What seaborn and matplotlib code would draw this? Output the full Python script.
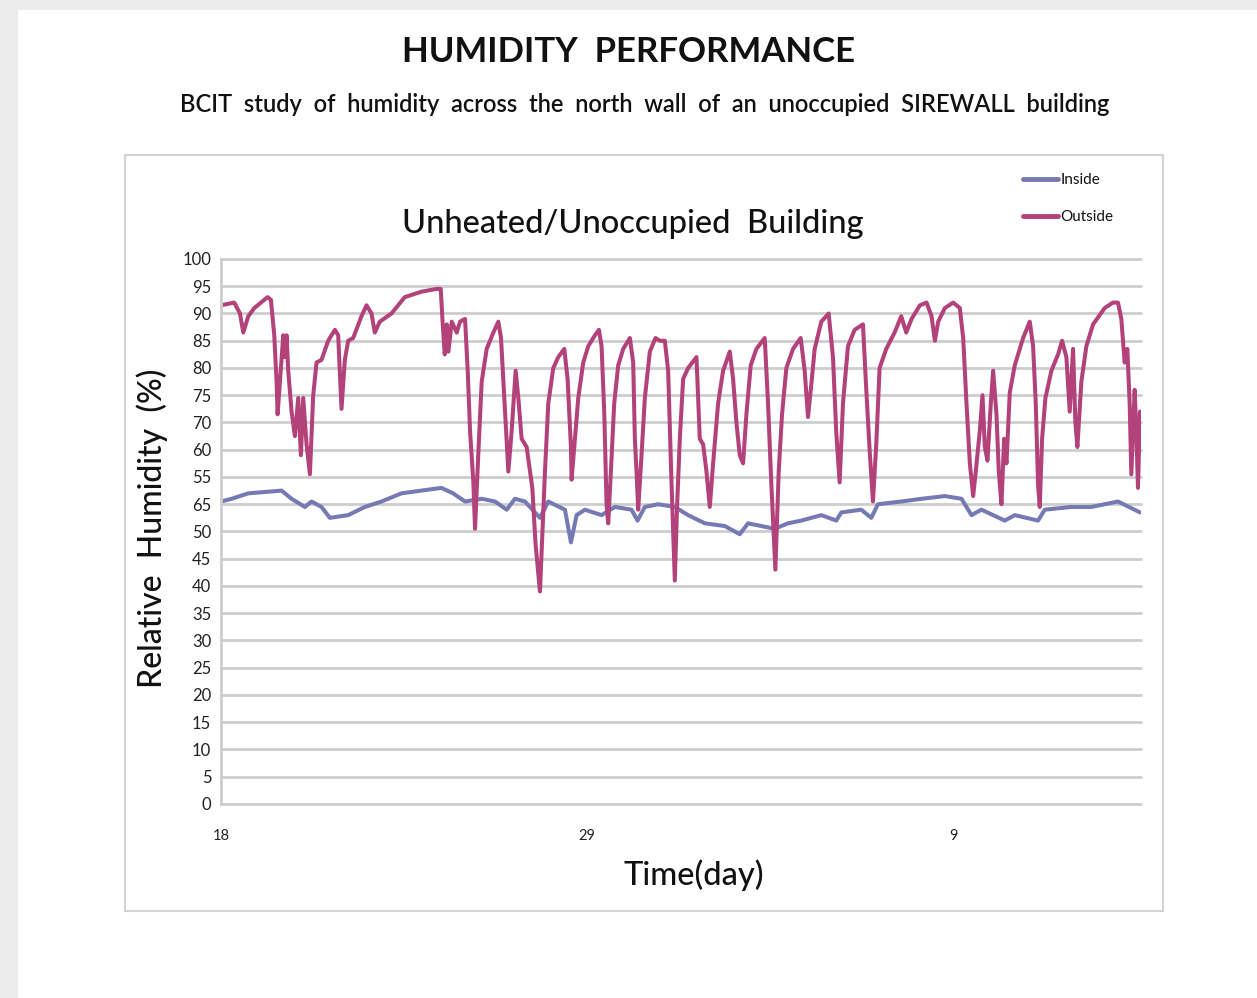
import numpy as np
import pandas as pd
import matplotlib
matplotlib.use("Agg")
import matplotlib.pyplot as plt
import seaborn as sns
from matplotlib.patches import Rectangle

# values (x = days since the 18th)
outside_day = [0.0, 0.4, 0.57, 0.67, 0.82, 1.0, 1.4, 1.5, 1.6, 1.67, 1.7, 1.77, 1.87, 1.92, 1.97,
               2.02, 2.12, 2.22, 2.32, 2.4, 2.47, 2.57, 2.67, 2.77, 2.87, 3.02, 3.22, 3.42, 3.52,
               3.62, 3.72, 3.82, 3.97, 4.22, 4.37, 4.52, 4.62, 4.77, 5.12, 5.52, 6.02, 6.47, 6.6,
               6.65, 6.72, 6.78, 6.83, 6.93, 7.08, 7.18, 7.33, 7.41, 7.48, 7.58, 7.63, 7.73, 7.83,
               7.98, 8.18, 8.33, 8.41, 8.53, 8.63, 8.73, 8.85, 8.93, 9.03, 9.18, 9.35, 9.45, 9.58,
               9.65, 9.73, 9.83, 9.98, 10.13, 10.31, 10.41, 10.51, 10.53, 10.61, 10.73, 10.88,
               11.03, 11.23, 11.35, 11.43, 11.51, 11.58, 11.63, 11.71, 11.81, 11.93, 12.08, 12.28,
               12.38, 12.43, 12.48, 12.53, 12.63, 12.73, 12.88, 13.05, 13.18, 13.33, 13.43, 13.53,
               13.63, 13.7, 13.78, 13.88, 14.03, 14.28, 14.38, 14.48, 14.58, 14.68, 14.78, 14.93,
               15.08, 15.28, 15.38, 15.48, 15.58, 15.68, 15.78, 15.91, 16.08, 16.33, 16.43, 16.53,
               16.65, 16.75, 16.85, 16.98, 17.18, 17.41, 17.53, 17.63, 17.73, 17.83, 18.03, 18.25,
               18.38, 18.48, 18.58, 18.68, 18.83, 19.03, 19.28, 19.38, 19.48, 19.58, 19.68, 19.78,
               19.98, 20.23, 20.43, 20.58, 20.74, 20.99, 21.19, 21.34, 21.44, 21.54, 21.74, 21.99,
               22.19, 22.29, 22.39, 22.49, 22.59, 22.66, 22.79, 22.87, 22.94, 23.02, 23.12, 23.19,
               23.29, 23.36, 23.44, 23.52, 23.59, 23.69, 23.84, 24.09, 24.29, 24.39, 24.47, 24.54,
               24.59, 24.66, 24.76, 24.94, 25.14, 25.26, 25.39, 25.49, 25.59, 25.66, 25.72, 25.84,
               25.99, 26.19, 26.54, 26.79, 26.94, 27.04, 27.14, 27.22, 27.29, 27.34, 27.44, 27.49,
               27.54, 27.6]
outside_rh = [91.5, 92, 90, 86.5, 89.5, 91, 93, 92.5, 86, 77.5, 71.5, 77.5, 86, 82, 86,
              79.5, 72, 67.5, 74.5, 64, 74.5, 66, 60.5, 75, 81, 81.5, 85, 87, 86,
              72.5, 81.5, 85, 85.5, 89.5, 91.5, 90, 86.5, 88.5, 90, 93, 94, 94.5, 94.5,
              89, 82.5, 88, 83, 88.5, 86.5, 88.5, 89, 79.5, 68.5, 59, 50.5, 64.5, 77.5,
              83.5, 86.5, 88.5, 85.5, 72, 61, 68.5, 79.5, 74.5, 67, 65.5, 58, 47.5, 39,
              49.5, 61, 73.5, 80, 82, 83.5, 78, 65.5, 59.5, 65.5, 74.5, 81,
              84, 86, 87, 84, 72, 55, 51.5, 61, 73.5, 80.5, 83.5, 85.5,
              81, 67, 61, 54, 64, 74.5, 83, 85.5, 85, 85, 79.5, 59,
              41, 55, 67, 78, 80, 82, 67, 66, 61, 54.5, 62.5, 73.5,
              79.5, 83, 78, 70, 64, 62.5, 71.5, 80.5, 83.5, 85.5, 73.5, 58.5,
              43, 61, 71.5, 80, 83.5, 85.5, 79.5, 71, 77, 83.5, 88.5, 90,
              82, 68, 59, 73.5, 84, 87, 88, 76, 65, 55.5, 66, 80,
              83.5, 86.5, 89.5, 86.5, 89, 91.5, 92, 89.5, 85, 88.5, 91, 92,
              91, 85.5, 73.5, 62.5, 56.5, 60.5, 68.5, 75, 65.5, 63, 73.5, 79.5,
              71.5, 61, 55, 67, 62.5, 75.5, 80.5, 85.5, 88.5, 84, 73.5, 58.5,
              54.5, 67, 74.5, 79.5, 82.5, 85, 82, 72, 83.5, 70, 65.5, 77.5,
              84, 88, 91, 92, 92, 89, 81, 83.5, 73.5, 60.5, 76, 68.5,
              58, 72]

inside_day = [0.0, 0.32, 0.82, 1.82, 2.12, 2.52, 2.72, 3.02, 3.27, 3.82, 4.32, 4.82, 5.42, 6.02,
              6.62, 6.97, 7.33, 7.83, 8.23, 8.58, 8.83, 9.13, 9.58, 9.83, 10.33, 10.51, 10.68,
              10.93, 11.43, 11.83, 12.33, 12.51, 12.73, 13.13, 13.63, 14.03, 14.53, 15.13, 15.58,
              15.83, 16.23, 16.63, 17.03, 17.43, 18.03, 18.48, 18.63, 19.23, 19.53, 19.73, 20.43,
              21.04, 21.74, 22.24, 22.54, 22.84, 23.54, 23.84, 24.54, 24.74, 25.54, 26.14, 26.94,
              27.6]
inside_rh = [55.5, 56, 57, 57.5, 56, 54.5, 55.5, 54.5, 52.5, 53, 54.5, 55.5, 57, 57.5,
             58, 57, 55.5, 56, 55.5, 54, 56, 55.5, 52.5, 55.5, 54, 48, 53,
             54, 53, 54.5, 54, 52, 54.5, 55, 54.5, 53, 51.5, 51, 49.5,
             51.5, 51, 50.5, 51.5, 52, 53, 52, 53.5, 54, 52.5, 55, 55.5,
             56, 56.5, 56, 53, 54, 52, 53, 52, 54, 54.5, 54.5, 55.5,
             53.5]

x_ticks = [0, 11, 22]
x_tick_labels = ["18", "29", "9"]
y_ticks = list(range(0, 101, 5))
y_tick_labels = ["0", "5", "10", "15", "20", "25", "30", "35", "40", "45", "50",
                 "65", "55", "60", "70", "75", "80", "85", "90", "95", "100"]

df = pd.concat([
    pd.DataFrame({"day": inside_day, "rh": inside_rh, "series": "Inside"}),
    pd.DataFrame({"day": outside_day, "rh": outside_rh, "series": "Outside"}),
])
palette = {"Inside": "#7579b4", "Outside": "#b3427a"}

sns.set_theme(style="white")
plt.rcParams["font.family"] = ["Lato", "DejaVu Sans"]
plt.rcParams["text.color"] = "#111111"

fig = plt.figure(figsize=(12.57, 9.98), dpi=100, facecolor="#ececec")
# white page and the grey chart frame, behind the axes
fig.patches.append(Rectangle((0.0143, 0.0), 0.9857, 0.99, transform=fig.transFigure,
                             facecolor="white", edgecolor="none", zorder=-3))
fig.patches.append(Rectangle((0.0994, 0.0872), 0.8258, 0.7575, transform=fig.transFigure,
                             facecolor="white", edgecolor="#d3d3d3", lw=1.5, zorder=-2))

ax = fig.add_axes([0.1758, 0.1944, 0.7319, 0.5461])
ax.set_facecolor("none")
for y in y_ticks:
    ax.axhline(y, color="#cdcdcd", lw=2, zorder=0, clip_on=False)

sns.lineplot(data=df, x="day", y="rh", hue="series", palette=palette,
             hue_order=["Inside", "Outside"], estimator=None, sort=False,
             linewidth=2.9, ax=ax)

ax.set_xlim(0, 27.63)
ax.set_ylim(0, 100)
ax.set_xticks(x_ticks)
ax.set_xticklabels(x_tick_labels, fontsize=10.5)
ax.set_yticks(y_ticks)
ax.set_yticklabels(y_tick_labels, fontsize=12)
ax.tick_params(axis="y", length=0, pad=7, colors="#222222")
ax.tick_params(axis="x", length=0, pad=18, colors="#222222")
for s in ["top", "right", "bottom"]:
    ax.spines[s].set_visible(False)
ax.spines["left"].set_color("#cdcdcd")
ax.spines["left"].set_linewidth(2)
ax.set_xlabel("")
ax.set_ylabel("")

ax.legend(loc="upper left", bbox_to_anchor=(0.803, 0.84), bbox_transform=fig.transFigure,
          frameon=False, fontsize=11, handlelength=2.3, handletextpad=0.15,
          labelspacing=1.5, title=None)
for h in ax.get_legend().get_lines():
    h.set_linewidth(3.5)

fig.text(0.5004, 0.948, "HUMIDITY  PERFORMANCE", ha="center", va="center",
         fontsize=25, fontweight="bold")
fig.text(0.513, 0.895, "BCIT  study  of  humidity  across  the  north  wall  of  an  unoccupied  SIREWALL  building",
         ha="center", va="center", fontsize=17, fontweight="semibold")
fig.text(0.5036, 0.7756, "Unheated/Unoccupied  Building", ha="center", va="center",
         fontsize=23.5, fontweight="medium")
fig.text(0.121, 0.471, "Relative  Humidity  (%)", ha="center", va="center", rotation=90,
         fontsize=23, fontweight="medium")
fig.text(0.552, 0.1232, "Time(day)", ha="center", va="center", fontsize=23.5, fontweight="medium")

fig.savefig("out.png", dpi=100, facecolor=fig.get_facecolor())
